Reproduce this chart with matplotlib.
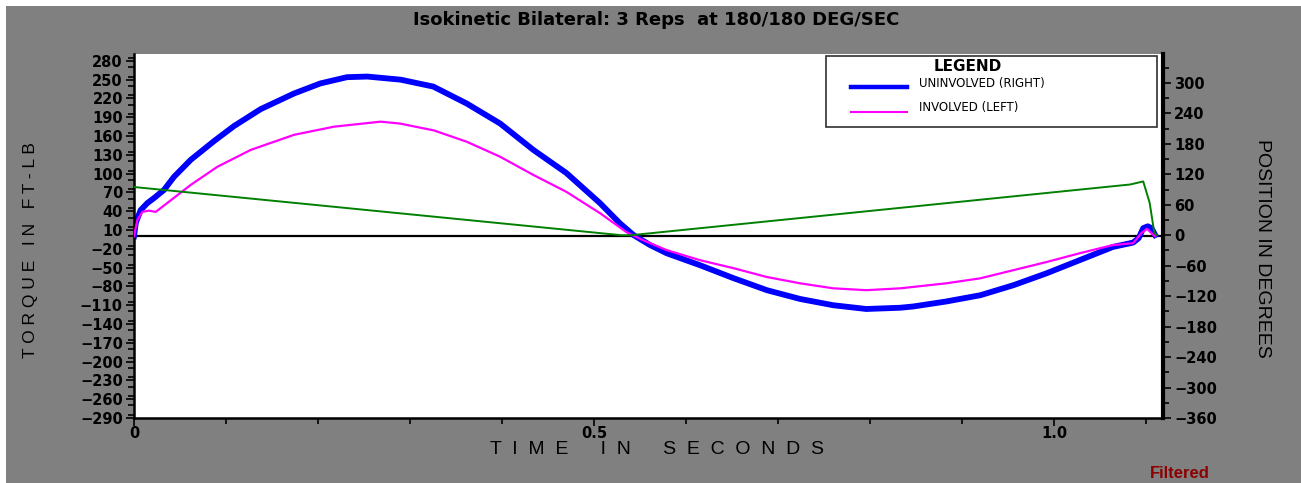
import matplotlib
matplotlib.use("Agg")
import matplotlib.pyplot as plt
from matplotlib.patches import Rectangle
from matplotlib.ticker import MultipleLocator, FixedLocator

# torque, uninvolved (right) leg - ft-lb
right_t = [0, 0.002, 0.0073, 0.0145, 0.0217, 0.0326, 0.0435, 0.0616, 0.087, 0.1087,
           0.1377, 0.174, 0.2025, 0.2315, 0.2536, 0.2899, 0.3253, 0.3616, 0.398, 0.434,
           0.470, 0.5065, 0.528, 0.543, 0.561, 0.579, 0.615, 0.652, 0.688, 0.724,
           0.760, 0.796, 0.833, 0.847, 0.883, 0.920, 0.956, 0.992, 1.028, 1.064,
           1.086, 1.092, 1.097, 1.102, 1.106, 1.110]
right_tq = [0, 22, 42, 53, 61, 74, 95, 122, 152, 176,
            203, 228, 244, 254, 255, 250, 239, 212, 180, 138,
            101, 53, 21, 2, -14, -27, -46, -67, -86, -100,
            -110, -116, -114, -112, -104, -94, -78, -59, -38, -17,
            -10, -3, 13, 16, 13, 2]

# torque, involved (left) leg
left_t = [0, 0.0036, 0.009, 0.0163, 0.0236, 0.036, 0.0616, 0.0906, 0.127, 0.174,
          0.2174, 0.268, 0.289, 0.326, 0.3616, 0.398, 0.434, 0.470, 0.5065, 0.535,
          0.553, 0.579, 0.615, 0.652, 0.688, 0.724, 0.760, 0.796, 0.833, 0.883,
          0.920, 0.956, 0.992, 1.028, 1.064, 1.086, 1.095, 1.101, 1.106, 1.110]
left_tq = [0, 26, 39, 41, 39, 53, 82, 111, 138, 162,
           175, 183, 180, 169, 151, 127, 98, 71, 37, 7,
           -6, -22, -38, -51, -65, -75, -83, -86, -83, -75,
           -67, -54, -41, -27, -14, -11, 5, 12, 5, 0]

# position in degrees
pos_t = [0, 0.53, 0.54, 1.083, 1.090, 1.097, 1.104, 1.109, 1.112]
pos_deg = [95, 0, 0, 100, 103, 106, 64, 5, 0]

torque_ticks = list(range(-290, 281, 30))
pos_ticks = list(range(-360, 301, 60))
time_ticks = [0, 0.5, 1.0]
time_labels = ["0", "0.5", "1.0"]

GRAY = "#808080"
FONT = "Liberation Sans"
TICKFONT = "DejaVu Sans"


def spaced(s, gap=1, wordgap=3):
    # letter-spaced caps like the old Biodex printout
    words = s.split(" ")
    return (" " * wordgap).join((" " * gap).join(w) for w in words)


fig = plt.figure(figsize=(13.01, 4.83), dpi=100)
fig.patch.set_facecolor("white")
fig.patches.append(Rectangle((6 / 1301, 0), 1, (483 - 6) / 483, transform=fig.transFigure,
                             facecolor=GRAY, edgecolor="none", zorder=-10))

ax = fig.add_axes([134 / 1301, 65 / 483, 1029 / 1301, 364 / 483])
ax.set_facecolor("white")
ax2 = ax.twinx()

ax.axhline(0, color="black", lw=1.6, zorder=1)
ax.plot(right_t, right_tq, color="#0000ff", lw=4.2, solid_joinstyle="round", zorder=2)
ax.plot(left_t, left_tq, color="#ff00ff", lw=1.6, zorder=3)
ax2.plot(pos_t, pos_deg, color="#008000", lw=1.4)

ax.set_xlim(0, 1.1185)
ax.set_ylim(-290, 291)
ax2.set_ylim(-360, 357)

ax.xaxis.set_major_locator(FixedLocator(time_ticks))
ax.set_xticklabels(time_labels)
ax.xaxis.set_minor_locator(MultipleLocator(0.1))
ax.yaxis.set_major_locator(FixedLocator(torque_ticks))
ax.yaxis.set_minor_locator(MultipleLocator(15))
ax2.yaxis.set_major_locator(FixedLocator(pos_ticks))
ax2.yaxis.set_minor_locator(MultipleLocator(30))

for a in (ax, ax2):
    a.tick_params(which="major", length=6, width=1.2, color="black", labelsize=10.5, pad=2)
    a.tick_params(which="minor", length=4, width=1.2, color="black")
    for lab in a.get_xticklabels() + a.get_yticklabels():
        lab.set_fontfamily(TICKFONT)
        lab.set_fontweight("bold")
    a.spines["top"].set_visible(False)
ax.tick_params(axis="x", pad=0)
ax.spines["left"].set_linewidth(1.8)
ax.spines["bottom"].set_linewidth(1.8)
ax.spines["right"].set_visible(False)
ax2.spines["left"].set_visible(False)
ax2.spines["bottom"].set_visible(False)
ax2.spines["right"].set_linewidth(3)

# legend box, drawn like the original report
ax.add_patch(Rectangle((0.6725, 0.80), 0.3215, 0.1945, transform=ax.transAxes,
                       facecolor="white", edgecolor="#303030", lw=1.2, zorder=5))
ax.text(0.8105, 0.966, "LEGEND", transform=ax.transAxes, ha="center", va="center",
        fontfamily=TICKFONT, fontweight="bold", fontsize=11, zorder=6)
ax.plot([0.697, 0.7515], [0.908, 0.908], transform=ax.transAxes, color="#0000ff", lw=3.2, zorder=6)
ax.plot([0.697, 0.7515], [0.842, 0.842], transform=ax.transAxes, color="#ff00ff", lw=1.5, zorder=6)
ax.text(0.7625, 0.918, "UNINVOLVED (RIGHT)", transform=ax.transAxes, ha="left", va="center",
        fontfamily=TICKFONT, fontsize=8.5, zorder=6)
ax.text(0.7625, 0.852, "INVOLVED (LEFT)", transform=ax.transAxes, ha="left", va="center",
        fontfamily=TICKFONT, fontsize=8.5, zorder=6)

fig.text(656 / 1301, 1 - 20 / 483, "Isokinetic Bilateral: 3 Reps  at 180/180 DEG/SEC",
         ha="center", va="center", fontfamily=TICKFONT, fontweight="bold", fontsize=13)
fig.text(31 / 1301, 1 - 250 / 483, spaced("TORQUE IN FT-LB"), rotation=90,
         ha="center", va="center", fontfamily=FONT, fontsize=12.5)
fig.text(1262 / 1301, 1 - 248 / 483, "POSITION IN DEGREES", rotation=-90,
         ha="center", va="center", fontfamily=FONT, fontsize=14)
fig.text(657 / 1301, 1 - 450 / 483, spaced("TIME IN SECONDS", gap=2, wordgap=6),
         ha="center", va="center", fontfamily=FONT, fontsize=14)
fig.text(1180 / 1301, 1 - 474 / 483, "Filtered", ha="center", va="center",
         fontfamily=FONT, fontweight="bold", fontsize=12, color="#8b0000")

fig.savefig("out.png", dpi=100, facecolor=fig.get_facecolor())
